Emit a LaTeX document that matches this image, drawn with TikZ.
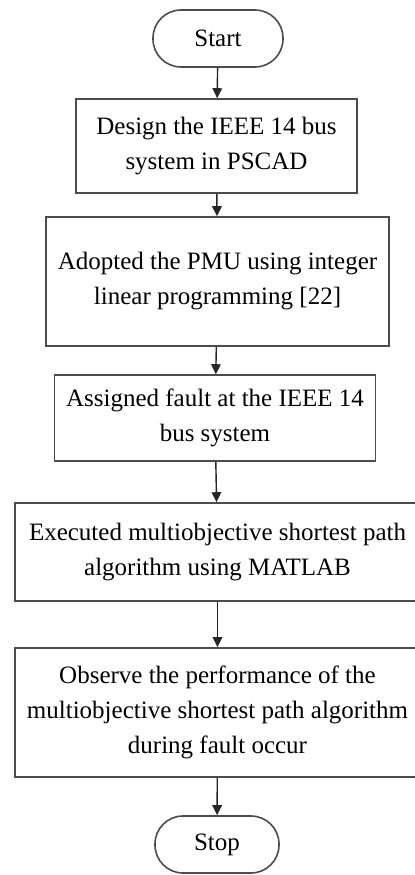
\documentclass[tikz,border=0pt]{standalone}
\usepackage{fontspec}
\setmainfont{Liberation Serif}
\usetikzlibrary{arrows.meta}
\begin{document}
\begin{tikzpicture}[x=0.5pt, y=-0.5pt, every node/.style={font=\fontsize{12.5}{17.5}\selectfont, align=center, inner sep=0pt},
    box/.style={draw=black!70, line width=0.8pt}, term/.style={box, rounded corners=14pt},
    arr/.style={-{Triangle[length=5pt, width=4.8pt]}, line width=0.7pt, black!85}]
            \useasboundingbox (0,0) rectangle (414,875);
            \node[term, minimum width=65pt, minimum height=28.5pt] (st) at (218,38.5) {Start};
            \node[box, minimum width=140.5pt, minimum height=47pt] (b1) at (216.5,146) {Design the IEEE 14 bus\\system in PSCAD};
            \node[box, minimum width=171.5pt, minimum height=64.5pt] (b2) at (217.5,281.5) {Adopted the PMU using integer\\linear programming [22]};
            \node[box, minimum width=160.5pt, minimum height=43pt] (b3) at (215,418) {Assigned fault at the IEEE 14\\bus system};
            \node[box, minimum width=202.5pt, minimum height=49pt] (b4) at (217.5,552) {Executed multiobjective shortest path\\algorithm using MATLAB};
            \node[box, minimum width=202.5pt, minimum height=64.5pt] (b5) at (217.5,712.5) {Observe the performance of the\\multiobjective shortest path algorithm\\during fault occur};
            \node[term, minimum width=62pt, minimum height=28.5pt] (sp) at (217,844.5) {Stop};
            \draw[arr] (st) -- (b1); \draw[arr] (b1) -- (b2); \draw[arr] (b2) -- (b3);
            \draw[arr] (b3) -- (b4); \draw[arr] (b4) -- (b5); \draw[arr] (b5) -- (sp);
        \end{tikzpicture}
\end{document}
